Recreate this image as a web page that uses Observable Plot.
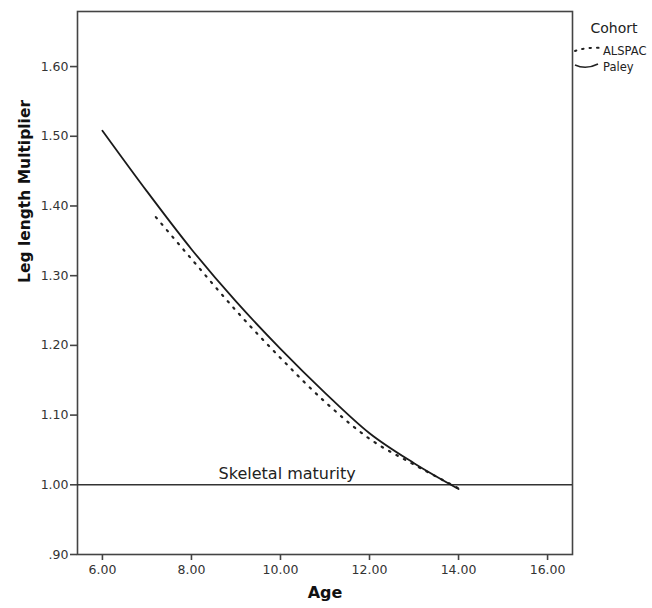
<!DOCTYPE html>
<html>
<head>
<meta charset="utf-8">
<script src="https://cdn.jsdelivr.net/npm/d3@7"></script>
<script src="https://cdn.jsdelivr.net/npm/@observablehq/plot@0.6"></script>
<style>
  html, body { margin: 0; padding: 0; background: #fff; }
  #wrap { position: relative; width: 652px; height: 608px; font-family: "DejaVu Sans", sans-serif; }
  #legend { position: absolute; left: 572px; top: 0; width: 80px; height: 100px; }
</style>
</head>
<body>
<div id="wrap">
  <div id="chart"></div>
  <svg id="legend" width="80" height="100"></svg>
</div>
<script>
const paleyAges = [6, 7, 8, 9, 10, 11, 12, 13, 14];
const paleyValues = [1.508, 1.421, 1.338, 1.263, 1.195, 1.132, 1.074, 1.031, 0.994];
const alspacAges = [7.2, 8, 9, 10, 11, 12, 13, 14];
const alspacValues = [1.384, 1.324, 1.250, 1.182, 1.119, 1.066, 1.029, 0.995];
const xTicks = [6, 8, 10, 12, 14, 16];
const yTicks = [0.9, 1.0, 1.1, 1.2, 1.3, 1.4, 1.5, 1.6];
const maturityLevel = [1.0];
const maturityLabel = "Skeletal maturity";
const cohorts = ["ALSPAC", "Paley"];

const paley = paleyAges.map((a, i) => ({age: a, value: paleyValues[i]}));
const alspac = alspacAges.map((a, i) => ({age: a, value: alspacValues[i]}));

const fmtY = d => { const s = d.toFixed(2); return s.startsWith("0") ? s.slice(1) : s; };

const chart = Plot.plot({
  width: 652,
  height: 608,
  marginLeft: 77,
  marginRight: 80,
  marginTop: 11,
  marginBottom: 54,
  style: {fontFamily: "DejaVu Sans, sans-serif", fontSize: "12px", color: "#333", background: "#fff"},
  x: {domain: [5.44, 16.56], label: null},
  y: {domain: [0.9, 1.679], label: null},
  marks: [
    Plot.frame({stroke: "#444", strokeWidth: 1.6}),
    Plot.axisX({ticks: xTicks, tickFormat: d => d.toFixed(2), tickSize: 6, tickPadding: 5, stroke: "#444", strokeWidth: 1.6, label: null, fontSize: 12.5, fill: "#333"}),
    Plot.axisY({ticks: yTicks, tickFormat: fmtY, tickSize: 7, tickPadding: 2, stroke: "#444", strokeWidth: 1.6, label: null, fontSize: 12.5, fill: "#333"}),
    Plot.ruleY(maturityLevel, {stroke: "#333", strokeWidth: 1.6}),
    Plot.text([maturityLabel], {x: 10.15, y: maturityLevel[0], text: d => d, dy: -11, fontSize: 16, fill: "#222", textAnchor: "middle"}),
    Plot.line(alspac, {x: "age", y: "value", curve: "monotone-x", stroke: "#222", strokeWidth: 2.2, strokeDasharray: "1.5,7", strokeLinecap: "round"}),
    Plot.line(paley, {x: "age", y: "value", curve: "monotone-x", stroke: "#1a1a1a", strokeWidth: 1.8}),
    Plot.text(["Age"], {frameAnchor: "bottom", dy: 43, text: d => d, fontSize: 16, fontWeight: "bold", fill: "#111"}),
    Plot.text(["Leg length Multiplier"], {frameAnchor: "left", dx: -52, rotate: -90, text: d => d, fontSize: 15.5, fontWeight: "bold", fill: "#111"})
  ]
});
document.getElementById("chart").appendChild(chart);

// Legend in right margin
const lg = d3.select("#legend");
lg.append("text").attr("x", 42).attr("y", 33).attr("text-anchor", "middle")
  .attr("font-size", 14).attr("fill", "#222").attr("font-family", "DejaVu Sans, sans-serif").text("Cohort");
cohorts.forEach((c, i) => {
  const y = 51 + i * 16;
  if (c === "ALSPAC") {
    lg.append("path").attr("d", `M3,${y} Q14,${y-4} 29,${y-3}`).attr("fill", "none")
      .attr("stroke", "#222").attr("stroke-width", 2).attr("stroke-dasharray", "1.5,6").attr("stroke-linecap", "round");
  } else {
    lg.append("path").attr("d", `M3,${y-2} Q14,${y+3} 26,${y-3}`).attr("fill", "none")
      .attr("stroke", "#222").attr("stroke-width", 1.6);
  }
  lg.append("text").attr("x", 31).attr("y", y + 4).attr("font-size", 11.5).attr("fill", "#222")
    .attr("font-family", "DejaVu Sans, sans-serif").text(c);
});
</script>
</body>
</html>
